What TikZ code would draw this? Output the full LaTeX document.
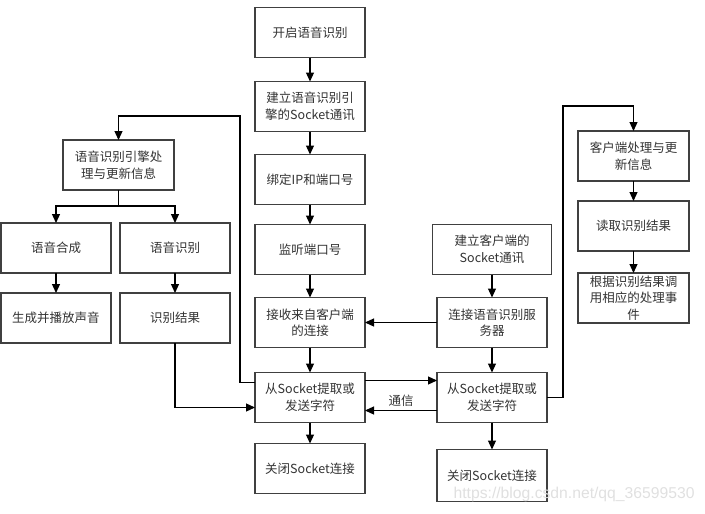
\documentclass[tikz,border=0pt]{standalone}
\usepackage{fontspec}
\newfontfamily\cjk{Noto Sans CJK SC}
\usepackage{tikz}
\usetikzlibrary{positioning}
\usetikzlibrary{arrows.meta}
\tikzset{flow box/.style={rectangle,draw=black!75,text=black!80,fill=white,minimum width=110pt,minimum height=50pt,inner sep=1pt,outer sep=0pt,align=center,font=\cjk\fontsize{12.5}{16.5}\selectfont},
            }

\begin{document}
\begin{tikzpicture}[x=1pt,y=-1pt,line width=1.2pt,>={Triangle[length=9pt,width=8pt]}]
\useasboundingbox (0,0) rectangle (705,514);
% server side
 \node[flow box] (start) at (310,32.5) {开启语音识别};
 \node[flow box] (esock)[below=24pt of start] {建立语音识别引\\擎的Socket通讯};
 \node[flow box] (bind)[below=23pt of esock] {绑定IP和端口号};
 \node[flow box] (listen)[below=20pt of bind] {监听端口号};
 \node[flow box] (accept)[below=23pt of listen] {接收来自客户端\\的连接};
 \node[flow box] (ssend)[below=25pt of accept] {从Socket提取或\\发送字符};
 \node[flow box] (sclose)[below=21pt of ssend] {关闭Socket连接};
% client side
 \node[flow box,minimum width=119pt] (csock) at (492,249.5) {建立客户端的\\Socket通讯};
 \node[flow box] (connect)[below=23pt of csock] {连接语音识别服\\务器};
 \node[flow box] (csend)[below=25pt of connect] {从Socket提取或\\发送字符};
 \node[flow box,minimum height=52pt] (cclose)[below=27pt of csend] {关闭Socket连接};
    \node[flow box,minimum width=111pt] (chandle) at (633.5,156) {客户端处理与更\\新信息};
    \node[flow box,minimum width=111pt] (read)[below=20pt of chandle] {读取识别结果};
    \node[flow box,minimum width=111pt] (act)[below=22pt of read] {根据识别结果调\\用相应的处理事\\件};
% engine
    \node[flow box,minimum width=111pt] (eng) at (118.5,165) {语音识别引擎处\\理与更新信息};
        \node[flow box] (synth) at (56,248) {语音合成};
        \node[flow box] (recog)[right=9pt of synth] {语音识别};
        \node[flow box] (play)[below=20pt of synth] {生成并播放声音};
        \node[flow box] (result)[below=20pt of recog] {识别结果};

    \coordinate (rturn) at (563,106);
    \coordinate (lturn) at (240,116);
    \coordinate (fork) at (118.5,206);

    \path[draw,->]
        (start)  edge node {} (esock);
    \path[draw,->]
        (esock)  edge node {} (bind);
    \path[draw,->]
        (bind)  edge node {} (listen);
    \path[draw,->]
        (listen)  edge node {} (accept);
    \path[draw,->]
        (accept)  edge node {} (ssend);
    \path[draw,->]
        (ssend)  edge node {} (sclose);
    \path[draw,->]
        (csock)  edge node {} (connect);
    \path[draw,->]
        (connect)  edge node {} (csend);
    \path[draw,->]
        (csend)  edge node {} (cclose);
    \path[draw,->]
        (chandle)  edge node {} (read);
    \path[draw,->]
        (read)  edge node {} (act);
    \path[draw,->]
        (synth)  edge node {} (play);
    \path[draw,->]
        (recog)  edge node {} (result);
    \path[draw,->]
        (connect.west)  -- (accept.east);
    \path[draw,->]
        ([yshift=17pt]ssend.east)  -- ([yshift=17pt]csend.west);
    \path[draw,->]
        ([yshift=-13pt]csend.west)  -- node[above,text=black!80,font=\cjk\fontsize{12.5}{15}\selectfont,inner sep=3pt] {通信} ([yshift=-13pt]ssend.east);
    \path[draw,->]
        (csend.east)  -| (rturn) -| (chandle.north);
    \path[draw,->]
        ([yshift=15pt]ssend.west)  -| (lturn) -| (eng.north);
    \path[draw,->]
        (result.south)  |- ([yshift=-10pt]ssend.west);
    \path[draw]
        (eng.south)  -- (fork);
    \path[draw,->]
        (fork)  -| (synth.north);
    \path[draw,->]
        (fork)  -| (recog.north);

    \node[text=black!12,font=\fontspec{Liberation Sans}\fontsize{15.7}{18}\selectfont,anchor=base west,inner sep=0pt] (mark) at (453,498) {https://blog.csdn.net/qq\_36599530};
\end{tikzpicture}
\end{document}
